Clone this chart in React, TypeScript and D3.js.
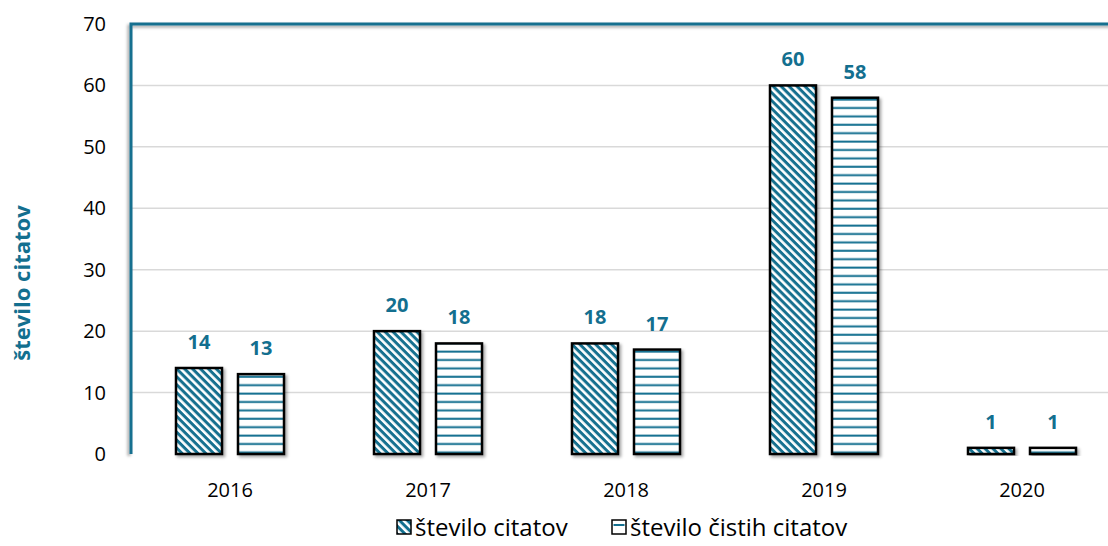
import React from "react";
import * as d3 from "d3";

const categories = ["2016", "2017", "2018", "2019", "2020"];
const seriesNames = ["število citatov", "število čistih citatov"];
const citations = [14, 20, 18, 60, 1];
const cleanCitations = [13, 18, 17, 58, 1];
const yTicks = [0, 10, 20, 30, 40, 50, 60, 70];

const TEAL = "#136f8f";
const W = 1108, H = 546;
const M = { left: 131, top: 24, bottom: 454 };

export default function App() {
  const x = d3.scaleBand<string>().domain(categories).range([M.left, M.left + 990]).paddingInner(0).paddingOuter(0);
  const y = d3.scaleLinear().domain([0, 70]).range([M.bottom, M.top]);
  const bw = 46;
  const gap = 16;
  const series = [citations, cleanCitations];
  const fills = ["url(#diag)", "url(#horiz)"];
  return (
    <svg width={W} height={H} style={{ position: "absolute", left: 0, top: 0, fontFamily: "'Open Sans', sans-serif" }}>
      <defs>
        <pattern id="diag" patternUnits="userSpaceOnUse" width="5.6" height="5.6" patternTransform="rotate(45)">
          <rect width="5.6" height="5.6" fill="#fff" />
          <rect width="5.6" height="3" fill={TEAL} />
        </pattern>
        <pattern id="horiz" patternUnits="userSpaceOnUse" width="8" height="8.4">
          <rect width="8" height="8.4" fill="#fff" />
          <rect y="6.2" width="8" height="2" fill={TEAL} />
        </pattern>
        <filter id="sh" x="-20%" y="-20%" width="150%" height="150%">
          <feDropShadow dx="2" dy="2" stdDeviation="1.5" floodColor="#000" floodOpacity="0.35" />
        </filter>
        <filter id="sh2" x="-5%" y="-5%" width="110%" height="110%">
          <feDropShadow dx="-2" dy="2" stdDeviation="1.5" floodColor="#000" floodOpacity="0.35" />
        </filter>
      </defs>
      {yTicks.slice(1).map(t => (
        <line key={t} x1={M.left} x2={W} y1={y(t)} y2={y(t)} stroke="#d9d9d9" strokeWidth={1.5} />
      ))}
      {yTicks.map(t => (
        <text key={t} x={106} y={y(t)} dy="0.35em" textAnchor="end" fontSize={20} fill="#000">{t}</text>
      ))}
      <line x1={M.left} x2={W} y1={M.bottom} y2={M.bottom} stroke="#a6a6a6" strokeWidth={2} filter="url(#sh)" />
      <path d={`M${M.left},${M.bottom} V${M.top} H${W + 5}`} fill="none" stroke={TEAL} strokeWidth={3} filter="url(#sh2)" />
      {categories.map((c, i) => {
        const cx = x(c)! + x.bandwidth() / 2;
        return (
          <g key={c}>
            {series.map((s, j) => {
              const bx = j === 0 ? cx - gap / 2 - bw : cx + gap / 2;
              const v = s[i];
              return (
                <g key={j}>
                  <rect x={bx} y={y(v)} width={bw} height={M.bottom - y(v)} fill={fills[j]} stroke="#000" strokeWidth={2.5} filter="url(#sh)" />
                  <text x={bx + bw / 2} y={y(v) - 19} textAnchor="middle" fontSize={20} fontWeight="bold" fill={TEAL}>{v}</text>
                </g>
              );
            })}
            <text x={cx} y={497} textAnchor="middle" fontSize={20} fill="#000">{c}</text>
          </g>
        );
      })}
      <text transform={`translate(30, 283) rotate(-90)`} textAnchor="middle" fontSize={22} fontWeight="bold" fill={TEAL}>število citatov</text>
      <g>
        <rect x={397} y={520} width={14} height={14} fill="url(#diag)" stroke="#000" strokeWidth={1.5} />
        <text x={415} y={536} fontSize={24} fill="#000">{seriesNames[0]}</text>
        <rect x={612} y={520} width={14} height={14} fill="#fff" stroke="#000" strokeWidth={1.5} />
        <rect x={613.5} y={524} width={11} height={2} fill={TEAL} />
        <text x={630} y={536} fontSize={24} fill="#000">{seriesNames[1]}</text>
      </g>
    </svg>
  );
}
